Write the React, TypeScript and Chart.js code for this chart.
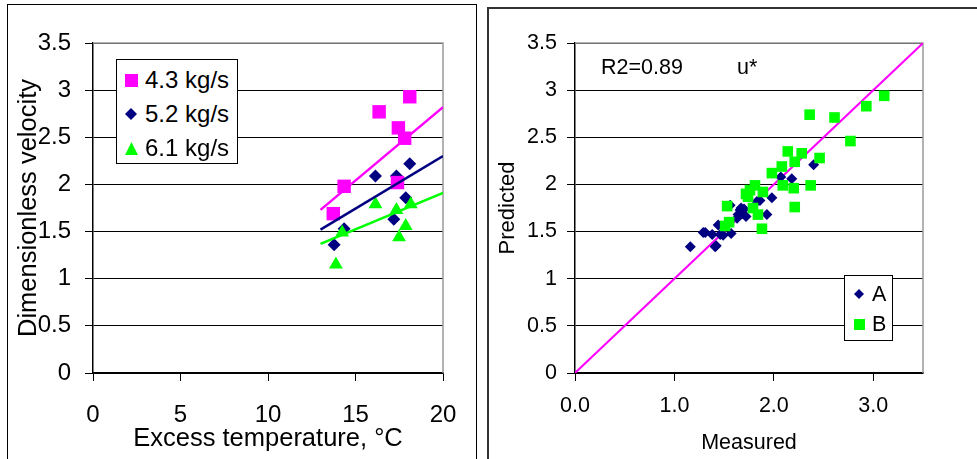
import { useEffect, useRef } from "react";
import { Chart, registerables } from "chart.js";

Chart.register(...registerables);

const FONT = "'Liberation Sans', Arial, Helvetica, sans-serif";

// ---------- Left chart data ----------
const leftSeriesNames = ["4.3 kg/s", "5.2 kg/s", "6.1 kg/s"];
const pinkX = [13.73, 14.35, 16.35, 17.45, 17.81, 17.4, 18.1];
const pinkY = [1.69, 1.98, 2.77, 2.6, 2.49, 2.02, 2.93];
const navyX = [13.78, 14.35, 16.14, 17.34, 18.1, 17.19, 17.87];
const navyY = [1.36, 1.53, 2.09, 2.09, 2.22, 1.63, 1.86];
const greenX = [13.88, 14.24, 16.14, 17.34, 17.49, 17.87, 18.16];
const greenY = [1.15, 1.49, 1.79, 1.73, 1.44, 1.56, 1.79];
const trendX = [13, 20];
const pinkTrend = [1.73, 2.82];
const navyTrend = [1.52, 2.3];
const greenTrend = [1.37, 1.91];
const leftXTicks = [0, 5, 10, 15, 20];
const yTicks = [0, 0.5, 1, 1.5, 2, 2.5, 3, 3.5];

// ---------- Right chart data ----------
const rightSeriesNames = ["A", "B"];
const aX = [1.16, 1.31, 1.38, 1.42, 1.46, 1.49, 1.57, 1.44, 1.56, 1.63, 1.66, 1.69, 1.72, 1.67, 1.86, 1.98, 1.93, 2.18, 2.4, 2.07, 1.29, 1.41, 1.68, 1.7, 1.64, 1.83];
const aY = [1.34, 1.49, 1.47, 1.35, 1.47, 1.46, 1.48, 1.57, 1.78, 1.64, 1.73, 1.69, 1.66, 1.75, 1.83, 1.86, 1.68, 2.06, 2.21, 2.08, 1.49, 1.34, 1.72, 1.74, 1.68, 1.82];
const bX = [2.36, 2.61, 2.93, 3.11, 2.77, 2.14, 2.28, 2.46, 2.21, 2.08, 1.98, 2.09, 2.2, 2.37, 2.21, 1.81, 1.76, 1.89, 1.74, 1.79, 1.84, 1.88, 1.53, 1.55, 1.51, 1.72];
const bY = [2.74, 2.71, 2.83, 2.94, 2.46, 2.35, 2.33, 2.28, 2.24, 2.19, 2.12, 1.99, 1.96, 1.99, 1.76, 1.99, 1.94, 1.92, 1.87, 1.75, 1.68, 1.53, 1.77, 1.6, 1.56, 1.9];
const identityX = [0, 3.5];
const identityY = [0, 3.5];
const rightXTicks = [0, 1, 2, 3];
const r2Label = "R2=0.89";
const uLabel = "u*";

const PINK = "#FF00FF";
const NAVY = "#000080";
const GREEN = "#00FF00";

const pts = (xs: number[], ys: number[]) => xs.map((x, i) => ({ x, y: ys[i] }));

const plotFrame = {
  id: "plotFrame",
  beforeDatasetsDraw(chart: any) {
    const { ctx, chartArea } = chart;
    const { left, top, right, bottom } = chartArea;
    ctx.save();
    ctx.strokeStyle = "#9a9a9a";
    ctx.lineWidth = 1.5;
    ctx.beginPath();
    ctx.moveTo(left, top);
    ctx.lineTo(right, top);
    ctx.lineTo(right, bottom);
    ctx.stroke();
    ctx.restore();
  },
};

function makeScales(opts: {
  xMin: number;
  xMax: number;
  xTicks: number[];
  xFmt: (v: number) => string;
  xTitle: string;
  yTitle: string;
  tickSize: number;
  xTitleSize: number;
  yTitleSize: number;
  yWidth: number;
  xHeight: number;
  yTickPad: number;
  xTickPad: number;
  yTitlePad: number;
  xTitlePad: number;
}) {
  return {
    x: {
      type: "linear",
      min: opts.xMin,
      max: opts.xMax,
      afterBuildTicks: (s: any) => {
        s.ticks = opts.xTicks.map((v) => ({ value: v }));
      },
      afterFit: (s: any) => {
        s.height = opts.xHeight;
      },
      ticks: {
        color: "#000",
        font: { family: FONT, size: opts.tickSize },
        padding: opts.xTickPad,
        maxRotation: 0,
        autoSkip: false,
        callback: (v: any) => opts.xFmt(Number(v)),
      },
      grid: {
        drawOnChartArea: false,
        drawTicks: true,
        tickLength: 8,
        color: "#000",
      },
      border: { display: true, color: "#000", width: 1.5 },
      title: {
        display: true,
        text: opts.xTitle,
        color: "#000",
        font: { family: FONT, size: opts.xTitleSize },
        padding: { top: 0, bottom: opts.xTitlePad },
      },
    },
    y: {
      type: "linear",
      min: 0,
      max: 3.5,
      afterBuildTicks: (s: any) => {
        s.ticks = yTicks.map((v) => ({ value: v }));
      },
      afterFit: (s: any) => {
        s.width = opts.yWidth;
      },
      ticks: {
        color: "#000",
        font: { family: FONT, size: opts.tickSize },
        padding: opts.yTickPad,
        autoSkip: false,
        callback: (v: any) => String(v),
      },
      grid: {
        drawOnChartArea: true,
        drawTicks: true,
        tickLength: 8,
        color: "#000",
        lineWidth: 1,
      },
      border: { display: true, color: "#000", width: 1.5 },
      title: {
        display: true,
        text: opts.yTitle,
        color: "#000",
        font: { family: FONT, size: opts.yTitleSize },
        padding: { top: opts.yTitlePad, bottom: 0 },
      },
    },
  };
}

function LeftChart() {
  const ref = useRef<HTMLCanvasElement | null>(null);
  useEffect(() => {
    if (!ref.current) return;
    const scales: any = makeScales({
      xMin: 0,
      xMax: 20,
      xTicks: leftXTicks,
      xFmt: (v) => String(v),
      xTitle: "Excess temperature, °C",
      yTitle: "Dimensionless velocity",
      tickSize: 24,
      xTitleSize: 25.5,
      yTitleSize: 25.5,
      yWidth: 93,
      xHeight: 86,
      yTickPad: 14,
      xTickPad: 20,
      yTitlePad: 14,
      xTitlePad: 5,
    });
    const chart = new Chart(ref.current, {
      type: "scatter",
      data: {
        datasets: [
          { label: "pinkTrend", data: pts(trendX, pinkTrend), showLine: true, borderColor: PINK, borderWidth: 2.5, pointRadius: 0, order: 0 } as any,
          { label: "navyTrend", data: pts(trendX, navyTrend), showLine: true, borderColor: NAVY, borderWidth: 2.5, pointRadius: 0, order: 0 } as any,
          { label: "greenTrend", data: pts(trendX, greenTrend), showLine: true, borderColor: GREEN, borderWidth: 2.5, pointRadius: 0, order: 0 } as any,
          { label: leftSeriesNames[0], data: pts(pinkX, pinkY), pointStyle: "rect", pointRadius: 9.5, backgroundColor: PINK, borderColor: PINK, borderWidth: 0, order: 1 } as any,
          { label: leftSeriesNames[2], data: pts(greenX, greenY), pointStyle: "triangle", pointRadius: 8, backgroundColor: GREEN, borderColor: GREEN, borderWidth: 0, order: 2 } as any,
          { label: leftSeriesNames[1], data: pts(navyX, navyY), pointStyle: "rectRot", pointRadius: 6.5, backgroundColor: NAVY, borderColor: NAVY, borderWidth: 0, order: 3 } as any,
        ],
      },
      options: {
        responsive: false,
        animation: false,
        devicePixelRatio: 1,
        layout: { padding: { left: 0, top: 43, right: 37, bottom: 0 } },
        plugins: { legend: { display: false }, tooltip: { enabled: false } },
        scales,
      } as any,
      plugins: [plotFrame],
    });
    return () => chart.destroy();
  }, []);
  return <canvas ref={ref} width={480} height={459} style={{ position: "absolute", left: 0, top: 0, width: 480, height: 459 }} />;
}

function RightChart() {
  const ref = useRef<HTMLCanvasElement | null>(null);
  useEffect(() => {
    if (!ref.current) return;
    const scales: any = makeScales({
      xMin: 0,
      xMax: 3.5,
      xTicks: rightXTicks,
      xFmt: (v) => v.toFixed(1),
      xTitle: "Measured",
      yTitle: "Predicted",
      tickSize: 21.5,
      xTitleSize: 21.5,
      yTitleSize: 22,
      yWidth: 95,
      xHeight: 86,
      yTickPad: 10,
      xTickPad: 12,
      yTitlePad: 14.5,
      xTitlePad: 3.5,
    });
    const chart = new Chart(ref.current, {
      type: "scatter",
      data: {
        datasets: [
          { label: "identity", data: pts(identityX, identityY), showLine: true, borderColor: PINK, borderWidth: 2, pointRadius: 0, order: 3 } as any,
          { label: rightSeriesNames[0], data: pts(aX, aY), pointStyle: "rectRot", pointRadius: 5.5, backgroundColor: NAVY, borderColor: NAVY, borderWidth: 0, order: 2 } as any,
          { label: rightSeriesNames[1], data: pts(bX, bY), pointStyle: "rect", pointRadius: 7.5, backgroundColor: GREEN, borderColor: GREEN, borderWidth: 0, order: 1 } as any,
        ],
      },
      options: {
        responsive: false,
        animation: false,
        devicePixelRatio: 1,
        layout: { padding: { left: 0, top: 43, right: 54, bottom: 0 } },
        plugins: { legend: { display: false }, tooltip: { enabled: false } },
        scales,
      } as any,
      plugins: [plotFrame],
    });
    return () => chart.destroy();
  }, []);
  return <canvas ref={ref} width={497} height={459} style={{ position: "absolute", left: 480, top: 0, width: 497, height: 459 }} />;
}

const Square = ({ s, c }: { s: number; c: string }) => (
  <svg width={s} height={s} style={{ display: "block" }}>
    <rect x={0} y={0} width={s} height={s} fill={c} />
  </svg>
);
const Diamond = ({ s, c }: { s: number; c: string }) => (
  <svg width={s} height={s} style={{ display: "block" }}>
    <polygon points={`${s / 2},0 ${s},${s / 2} ${s / 2},${s} 0,${s / 2}`} fill={c} />
  </svg>
);
const Triangle = ({ s, c }: { s: number; c: string }) => (
  <svg width={s} height={s} style={{ display: "block" }}>
    <polygon points={`${s / 2},0 ${s},${s} 0,${s}`} fill={c} />
  </svg>
);

function LegendRow({ cy, mx, tx, marker, text, size, ms }: any) {
  return (
    <>
      <div style={{ position: "absolute", left: mx - ms / 2, top: cy - ms / 2 }}>{marker}</div>
      <div
        style={{
          position: "absolute",
          left: tx,
          top: cy - 20,
          height: 40,
          lineHeight: "40px",
          fontFamily: FONT,
          fontSize: size,
          color: "#000",
          whiteSpace: "nowrap",
        }}
      >
        {text}
      </div>
    </>
  );
}

export default function App() {
  return (
    <div style={{ position: "fixed", left: 0, top: 0, width: 977, height: 459, background: "#fff", overflow: "hidden" }}>
      {/* frames */}
      <div style={{ position: "absolute", left: 7, top: 4, width: 470, height: 500, border: "1px solid #000", boxSizing: "border-box" }} />
      <div style={{ position: "absolute", left: 487, top: 7, width: 520, height: 500, border: "2px solid #333", boxSizing: "border-box" }} />
      <LeftChart />
      <RightChart />
      {/* left legend */}
      <div style={{ position: "absolute", left: 116, top: 59, width: 122, height: 105, border: "1px solid #000", background: "#fff", boxSizing: "border-box" }}>
        <LegendRow cy={20} mx={14} tx={28} ms={13} size={24} marker={<Square s={13} c={PINK} />} text={leftSeriesNames[0]} />
        <LegendRow cy={54} mx={14} tx={28} ms={12} size={24} marker={<Diamond s={12} c={NAVY} />} text={leftSeriesNames[1]} />
        <LegendRow cy={88} mx={14} tx={28} ms={13} size={24} marker={<Triangle s={13} c={GREEN} />} text={leftSeriesNames[2]} />
      </div>
      {/* right legend */}
      <div style={{ position: "absolute", left: 844, top: 275, width: 49, height: 66, border: "1px solid #000", background: "#fff", boxSizing: "border-box" }}>
        <LegendRow cy={18} mx={14} tx={27} ms={10} size={21.5} marker={<Diamond s={10} c={NAVY} />} text={rightSeriesNames[0]} />
        <LegendRow cy={48} mx={14} tx={27} ms={11} size={21.5} marker={<Square s={11} c={GREEN} />} text={rightSeriesNames[1]} />
      </div>
      {/* annotations */}
      <div style={{ position: "absolute", left: 601, top: 47, height: 40, lineHeight: "40px", fontFamily: FONT, fontSize: 21.5, color: "#000", whiteSpace: "nowrap" }}>
        {r2Label}
      </div>
      <div style={{ position: "absolute", left: 737, top: 47, height: 40, lineHeight: "40px", fontFamily: FONT, fontSize: 21.5, color: "#000", whiteSpace: "nowrap" }}>
        {uLabel}
      </div>
    </div>
  );
}
